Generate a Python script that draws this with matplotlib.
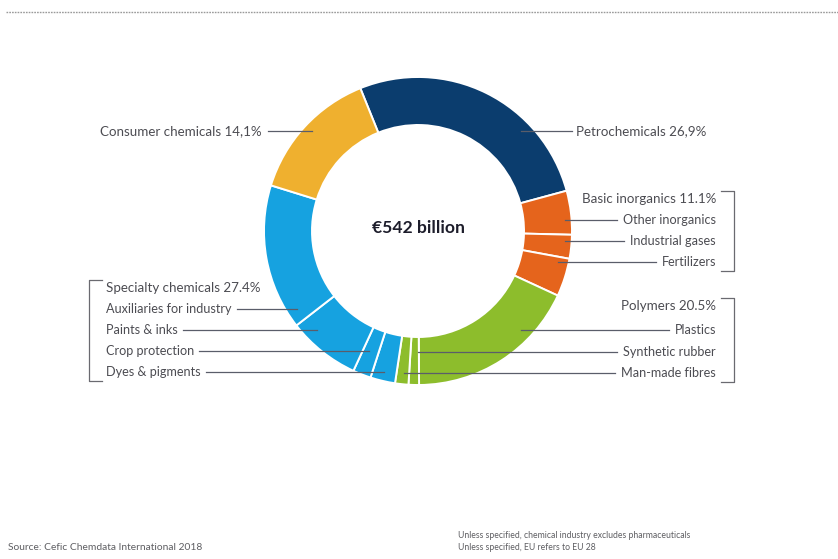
"""Chemical industry sales by segment, donut chart"""
import matplotlib.pyplot as plt

plt.rcParams['font.family'] = ['Lato', 'DejaVu Sans']

W, H = 838, 559

# sub-segments in clockwise order starting from petrochemicals (% of sales)
segments = [
    "Petrochemicals",
    "Other inorganics", "Industrial gases", "Fertilizers",
    "Plastics", "Synthetic rubber", "Man-made fibres",
    "Dyes & pigments", "Crop protection", "Paints & inks", "Auxiliaries for industry",
    "Consumer chemicals",
]
shares = [26.9, 4.6, 2.5, 4.0, 18.0, 1.1, 1.4, 2.6, 1.9, 7.6, 15.3, 14.1]
groups = ["petro", "inorg", "inorg", "inorg", "poly", "poly", "poly",
          "spec", "spec", "spec", "spec", "cons"]
group_colors = {
    "petro": "#0b3d6e",
    "inorg": "#e5641c",
    "poly": "#8dbd2c",
    "spec": "#16a2e0",
    "cons": "#efb02f",
}
total_label = "€542 billion"

TEXT = "#4c4c52"
LINE = "#5a5d6a"


def py(y):
    """pixel row (from top) -> data y"""
    return H - y


fig = plt.figure(figsize=(W / 100, H / 100), dpi=100)
ax = fig.add_axes([0, 0, 1, 1])

cx, cy, r_out = 418, py(231), 154
ax.pie(shares, colors=[group_colors[g] for g in groups], radius=r_out,
       center=(cx, cy), startangle=112, counterclock=False,
       wedgeprops=dict(width=48, edgecolor="white", linewidth=1.4))
ax.set_xlim(0, W)
ax.set_ylim(0, H)
ax.set_aspect("equal")
ax.axis("off")

ax.text(cx, cy + 3, total_label, ha="center", va="center", fontsize=12.6,
        fontweight="bold", color="#1d1d2b")

fs_head = 9.6
fs_item = 9.1
renderer = fig.canvas.get_renderer()


def text_edge(t, side):
    """x of the text edge facing the donut, in data/pixel units"""
    bb = t.get_window_extent(renderer=renderer)
    return bb.x1 if side == "left" else bb.x0


# single labels with a leader line
ax.text(262, py(131), "Consumer chemicals 14,1%", ha="right", va="center",
        fontsize=fs_head, color=TEXT)
ax.plot([268, 312], [py(131), py(131)], color=LINE, lw=0.9)
ax.text(576, py(131), "Petrochemicals 26,9%", ha="left", va="center",
        fontsize=fs_head, color=TEXT)
ax.plot([521, 572], [py(131), py(131)], color=LINE, lw=0.9)


def bracket_group(title, items, rows, line_x, side):
    """group title, item labels with leaders and a square bracket"""
    if side == "right":
        tx, ha = 716, "right"
    else:
        tx, ha = 106, "left"
    ax.text(tx, py(rows[0]), title, ha=ha, va="center", fontsize=fs_head, color=TEXT)
    for name, row, x_in in zip(items, rows[1:], line_x):
        t = ax.text(tx, py(row), name, ha=ha, va="center", fontsize=fs_item, color=TEXT)
        edge = text_edge(t, side)
        x_out = edge - 6 if side == "right" else edge + 5
        ax.plot([x_in, x_out], [py(row), py(row)], color=LINE, lw=0.9)
    top, bot = rows[0] - 8, rows[-1] + 9
    if side == "right":
        bx, tick = 734, 721
    else:
        bx, tick = 89, 102
    ax.plot([tick, bx, bx, tick], [py(top), py(top), py(bot), py(bot)],
            color="#6a6a70", lw=0.9, solid_joinstyle="round")


bracket_group("Basic inorganics 11.1%", segments[1:4], [199, 220, 241, 262],
              [565, 565, 558], "right")
bracket_group("Polymers 20.5%", segments[4:7], [306, 330, 352, 373],
              [521, 418, 404], "right")
bracket_group("Specialty chemicals 27.4%", segments[10:6:-1], [288, 309, 330, 351, 372],
              [297, 317, 369, 384], "left")

# dotted rule across the top
ax.plot([6, W], [py(12), py(12)], color="#9a9a9a", lw=1.0, ls=(0, (1.2, 0.8)))

ax.text(8, py(547), "Source: Cefic Chemdata International 2018", ha="left",
        va="center", fontsize=7.4, color="#5e5e62")
ax.text(458, py(535), "Unless specified, chemical industry excludes pharmaceuticals",
        ha="left", va="center", fontsize=6.2, color="#5e5e62")
ax.text(458, py(547), "Unless specified, EU refers to EU 28",
        ha="left", va="center", fontsize=6.2, color="#5e5e62")

fig.savefig("out.png", dpi=100, facecolor="white")
